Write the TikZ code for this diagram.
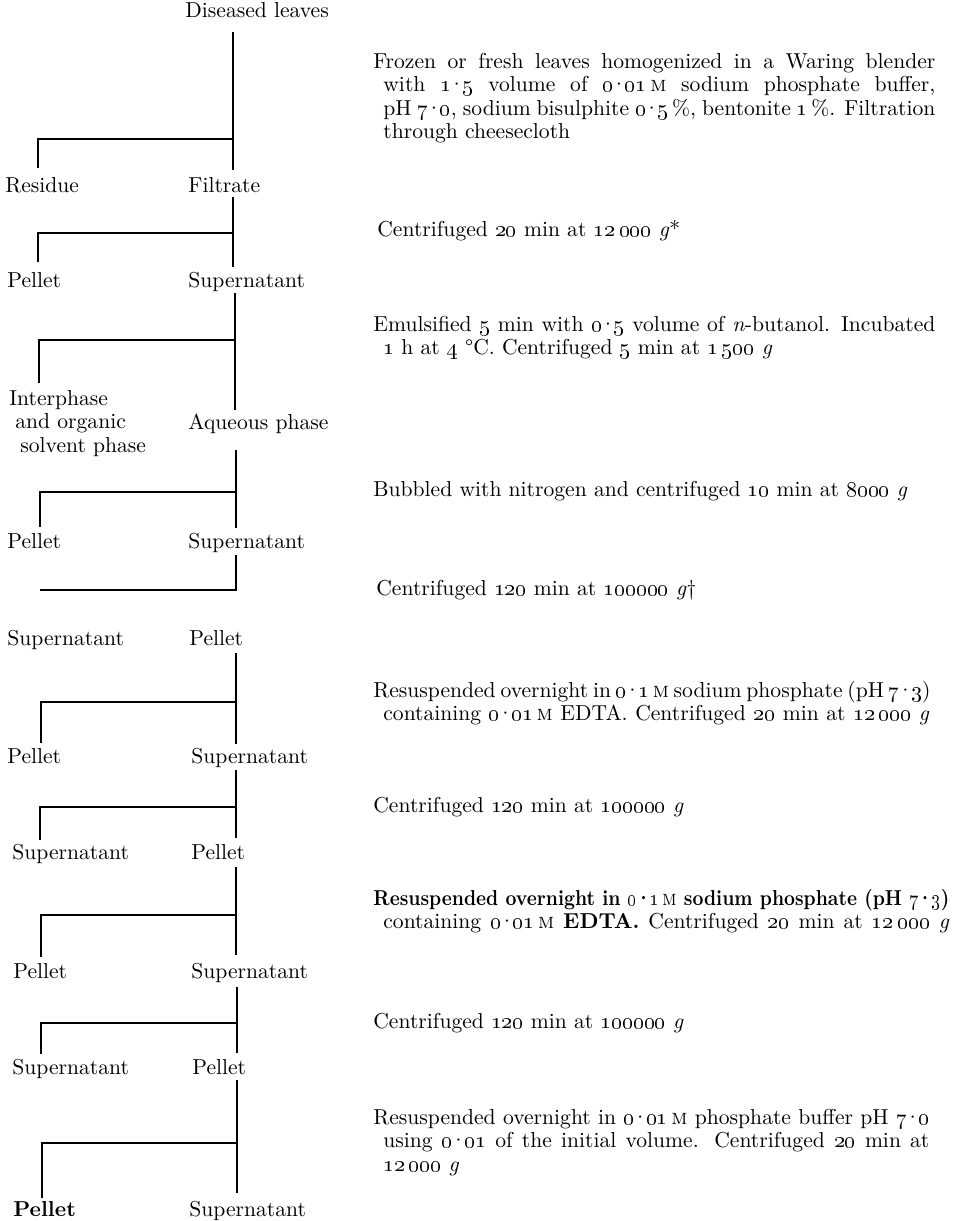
\documentclass[tikz,border=0pt]{standalone}
\usepackage{tikz}
\usepackage{graphicx}
\newcommand\os[1]{\oldstylenums{#1}}
\newcommand\dd[2]{\os{#1}\kern-1.3pt\textperiodcentered\kern-1.3pt\os{#2}}
\newcommand\gv{\textit{g}}
\newcommand\Mol{{\mdseries\scshape m}}
\newcommand\ind{\hskip 5pt}
\tikzset{
  lbl/.style={anchor=base west, inner sep=0pt, font=\fontsize{10.8}{11.75}\selectfont},
  desc/.style={anchor=base west, inner sep=0pt, font=\fontsize{10.8}{11.75}\selectfont},
  conn/.style={line width=0.9pt, line join=miter},
}
\begin{document}
\begin{tikzpicture}[x=0.5pt,y=-0.5pt]
\useasboundingbox (0,0) rectangle (958,1221);
% ---------- labels ----------
\node[lbl] (dl) at (185,17) {Diseased leaves};
\node[lbl] (res) at (5,192) {Residue};
\node[lbl] (fil) at (188,192) {Filtrate};
\node[lbl] (pe1) at (7,287) {Pellet};
\node[lbl] (su1) at (188,287) {Supernatant};
\node[lbl] (inter) at (9,405) {\vtop{\hbox{Interphase}\hbox{\hskip3pt and organic}\hbox{\hskip5.5pt solvent phase}}};
\node[lbl] (aq) at (188,429) {Aqueous phase};
\node[lbl] (pe2) at (7,548) {Pellet};
\node[lbl] (su2) at (188,548) {Supernatant};
\node[lbl] (su3) at (7,645) {Supernatant};
\node[lbl] (pe3) at (189,645) {Pellet};
\node[lbl] (pe4) at (7,763) {Pellet};
\node[lbl] (su4) at (191,763) {Supernatant};
\node[lbl] (su5) at (12,859) {Supernatant};
\node[lbl] (pe5) at (191,859) {Pellet};
\node[lbl] (pe6) at (13,978) {Pellet};
\node[lbl] (su6) at (191,978) {Supernatant};
\node[lbl] (su7) at (12,1074) {Supernatant};
\node[lbl] (pe7) at (192,1074) {Pellet};
\node[lbl] (pe8) at (13,1216) {\bfseries Pellet};
\node[lbl] (su8) at (189,1216) {Supernatant};
% ---------- connectors ----------
\foreach \n/\xr/\yt/\yj/\yb/\xl/\ylb in {
  1/233/32/139/170/38/168,
  2/233/197/233/267/38/262,
  3/235/293/340/410/39/383,
  4/236/450/492/528/40/527,
  6/236/653/702/744/41/743,
  7/236/770/807/838/40/840,
  8/236/867/915/955/41/957,
  9/237/987/1023/1053/41/1054,
  10/237/1080/1143/1193/42/1198}{
  \coordinate (t\n) at (\xr,\yt);
  \coordinate (j\n) at (\xr,\yj);
  \coordinate (b\n) at (\xr,\yb);
  \coordinate (l\n) at (\xl,\ylb);
  \draw[conn] (t\n) -- (b\n);
  \draw[conn] (j\n) -| (l\n);
}
\coordinate (t5) at (236,555);
\coordinate (j5) at (236,590);
\coordinate (l5) at (40,590);
\draw[conn] (t5) -- (j5) -- (l5);
% ---------- descriptions ----------
\node[desc] (d1) at (373,68) {\vtop{%
  \hbox to 281pt{Frozen or fresh leaves homogenized in a Waring blender}
  \hbox to 281pt{\ind with \dd{1}{5} volume of \dd{0}{01}\,\Mol{} sodium phosphate buffer,}
  \hbox to 281pt{\ind pH \dd{7}{0}, sodium bisulphite \dd{0}{5}\,\%, bentonite \os{1}\,\%. Filtration}
  \hbox{\ind through cheesecloth}}};
\node[desc] (d2) at (377,236) {Centrifuged \os{20} min at \os{12}\,\os{000} \gv*};
\node[desc] (d3) at (373,331) {\vtop{%
  \hbox to 281pt{Emulsified \os{5} min with \dd{0}{5} volume of \textit{n}-butanol. Incubated}
  \hbox{\ind \os{1} h at \os{4} °C. Centrifuged \os{5} min at \os{1}\,\os{500} \gv}}};
\node[desc] (d4) at (373,496) {Bubbled with nitrogen and centrifuged \os{10} min at \os{8000} \gv};
\node[desc] (d5) at (376,595) {Centrifuged \os{120} min at \os{100000} \gv\textdagger};
\node[desc] (d6) at (373,697) {\vtop{%
  \hbox to 278pt{Resuspended overnight in \dd{0}{1}\,\Mol{} sodium phosphate (pH \dd{7}{3})}
  \hbox to 278pt{\ind containing \dd{0}{01}\,\Mol{} EDTA. Centrifuged \os{20} min at \os{12}\,\os{000} \gv}}};
\node[desc] (d7) at (373,812) {Centrifuged \os{120} min at \os{100000} \gv};
\node[desc] (d8) at (373,905) {\vtop{%
  \hbox{\resizebox{288pt}{\height}{\bfseries Resuspended overnight in \dd{0}{1}\,\Mol{} sodium phosphate (pH \dd{7}{3})}}
  \hbox to 288pt{\ind containing \dd{0}{01}\,\Mol{} \textbf{EDTA.} Centrifuged \os{20} min at \os{12}\,\os{000} \gv}}};
\node[desc] (d9) at (373,1028) {Centrifuged \os{120} min at \os{100000} \gv};
\node[desc] (d10) at (373,1124) {\vtop{%
  \hbox to 278pt{Resuspended overnight in \dd{0}{01}\,\Mol{} phosphate buffer pH \dd{7}{0}}
  \hbox to 278pt{\ind using \dd{0}{01} of the initial volume. Centrifuged \os{20} min at}
  \hbox{\ind \os{12}\,\os{000} \gv}}};
\end{tikzpicture}
\end{document}
